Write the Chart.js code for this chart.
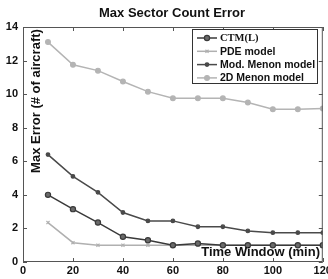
<!DOCTYPE html>
<html><head><meta charset="utf-8">
<script src="https://cdn.jsdelivr.net/npm/chart.js@4"></script>
<style>html,body{margin:0;padding:0;background:#fff}#wrap{width:328px;height:279px;position:relative}</style>
</head><body><div id="wrap"><canvas id="c" width="328" height="279"></canvas></div>
<script>
const timeWindow = [10,20,30,40,50,60,70,80,90,100,110,120];
const ctmL = [4.0,3.15,2.35,1.5,1.3,1.0,1.1,1.0,1.0,1.0,1.0,1.0];
const pde = [2.35,1.15,1.0,1.0,1.0,1.0,1.0,1.0,1.0,1.0,1.0,1.0];
const modMenon = [6.4,5.1,4.15,2.95,2.45,2.45,2.1,2.1,1.85,1.75,1.75,1.75];
const menon2D = [13.1,11.75,11.4,10.75,10.15,9.75,9.75,9.75,9.5,9.1,9.1,9.15];
const seriesNames = ["CTM(L)","PDE model","Mod. Menon model","2D Menon model"];
const xTicks = [0,20,40,60,80,100,120];
const yTicks = [0,2,4,6,8,10,12,14];

const pts = arr => arr.map((v,i)=>({x:timeWindow[i],y:v}));
const SANS = '"Liberation Sans", Arial, sans-serif';
const SERIF = '"Liberation Serif", "Times New Roman", serif';

const styles = [
  {color:'#3a3a3a', point:'circle', r:2.6, bg:'#6a6a6a', font:'bold 10.5px '+SERIF},
  {color:'#b0b0b0', point:'crossRot', r:2.2, bg:'#b0b0b0', font:'bold 10.5px '+SANS},
  {color:'#4a4a4a', point:'circle', r:1.8, bg:'#4a4a4a', font:'bold 10.5px '+SANS},
  {color:'#b4b4b4', point:'circle', r:2.4, bg:'#b4b4b4', font:'bold 10.5px '+SANS}
];
const data = [ctmL,pde,modMenon,menon2D];

const decor = {
  id:'decor',
  afterDraw(chart){
    const {ctx, chartArea:a, scales:{x,y}} = chart;
    ctx.save();
    ctx.strokeStyle='#555'; ctx.lineWidth=1;
    ctx.strokeRect(a.left+0.5,a.top+0.5,a.right-a.left-1,a.bottom-a.top-1);
    ctx.beginPath();
    xTicks.forEach(t=>{const px=Math.round(x.getPixelForValue(t))+0.5;
      ctx.moveTo(px,a.bottom);ctx.lineTo(px,a.bottom-4);ctx.moveTo(px,a.top);ctx.lineTo(px,a.top+4);});
    yTicks.forEach(t=>{const py=Math.round(y.getPixelForValue(t))+0.5;
      ctx.moveTo(a.left,py);ctx.lineTo(a.left+4,py);ctx.moveTo(a.right,py);ctx.lineTo(a.right-4,py);});
    ctx.stroke();
    ctx.fillStyle='#111';
    ctx.font='bold 13px '+SANS; ctx.textAlign='center'; ctx.textBaseline='middle';
    ctx.fillText('Max Sector Count Error',172,13);
    ctx.font='bold 13px '+SANS; ctx.textAlign='right';
    ctx.fillText('Time Window (min)',320,252);
    ctx.save(); ctx.translate(36,101); ctx.rotate(-Math.PI/2);
    ctx.textAlign='center'; ctx.fillText('Max Error (# of aircraft)',0,0); ctx.restore();
    const lx=192, ly=29, lw=125, lh=54;
    ctx.fillStyle='#fff'; ctx.fillRect(lx,ly,lw,lh);
    ctx.strokeStyle='#333'; ctx.strokeRect(lx+0.5,ly+0.5,lw,lh);
    seriesNames.forEach((n,i)=>{
      const s=styles[i]; const yy=ly+9+i*13.3;
      ctx.strokeStyle=s.color; ctx.lineWidth=1.5;
      ctx.beginPath(); ctx.moveTo(lx+5,yy); ctx.lineTo(lx+25,yy); ctx.stroke();
      ctx.fillStyle=s.bg; ctx.strokeStyle=s.color; ctx.lineWidth=1.2;
      Chart.helpers.drawPoint(ctx,{pointStyle:s.point,radius:s.r,borderWidth:1.2},lx+15,yy);
      ctx.fillStyle='#111'; ctx.font=s.font; ctx.textAlign='left'; ctx.textBaseline='middle';
      ctx.fillText(n,lx+28,yy+0.5);
    });
    ctx.restore();
  }
};

new Chart(document.getElementById('c'),{
  type:'line',
  data:{datasets:data.map((d,i)=>({
    label:seriesNames[i], data:pts(d),
    borderColor:styles[i].color, backgroundColor:styles[i].bg,
    pointBorderColor:styles[i].color, pointBackgroundColor:styles[i].bg,
    pointStyle:styles[i].point, pointRadius:styles[i].r, pointBorderWidth:1.2,
    borderWidth:1.5, tension:0, fill:false
  }))},
  options:{
    responsive:false, animation:false, devicePixelRatio:1,
    layout:{padding:{top:27,right:5,left:0,bottom:0}},
    plugins:{legend:{display:false},tooltip:{enabled:false},title:{display:false}},
    scales:{
      x:{type:'linear',min:0,max:120,
        afterBuildTicks(s){s.ticks=xTicks.map(v=>({value:v}));},
        afterFit(s){s.height=17;s.paddingLeft=0;s.paddingRight=0;},
        grid:{display:false,drawTicks:false}, border:{display:false},
        ticks:{font:{family:SANS,size:11,weight:'bold'},color:'#111',padding:2,maxRotation:0,autoSkip:false}},
      y:{type:'linear',min:0,max:14,
        afterBuildTicks(s){s.ticks=yTicks.map(v=>({value:v}));},
        afterFit(s){s.width=23;s.paddingTop=0;s.paddingBottom=0;},
        grid:{display:false,drawTicks:false}, border:{display:false},
        ticks:{font:{family:SANS,size:11,weight:'bold'},color:'#111',padding:5}}
    }
  },
  plugins:[decor]
});
</script></body></html>
